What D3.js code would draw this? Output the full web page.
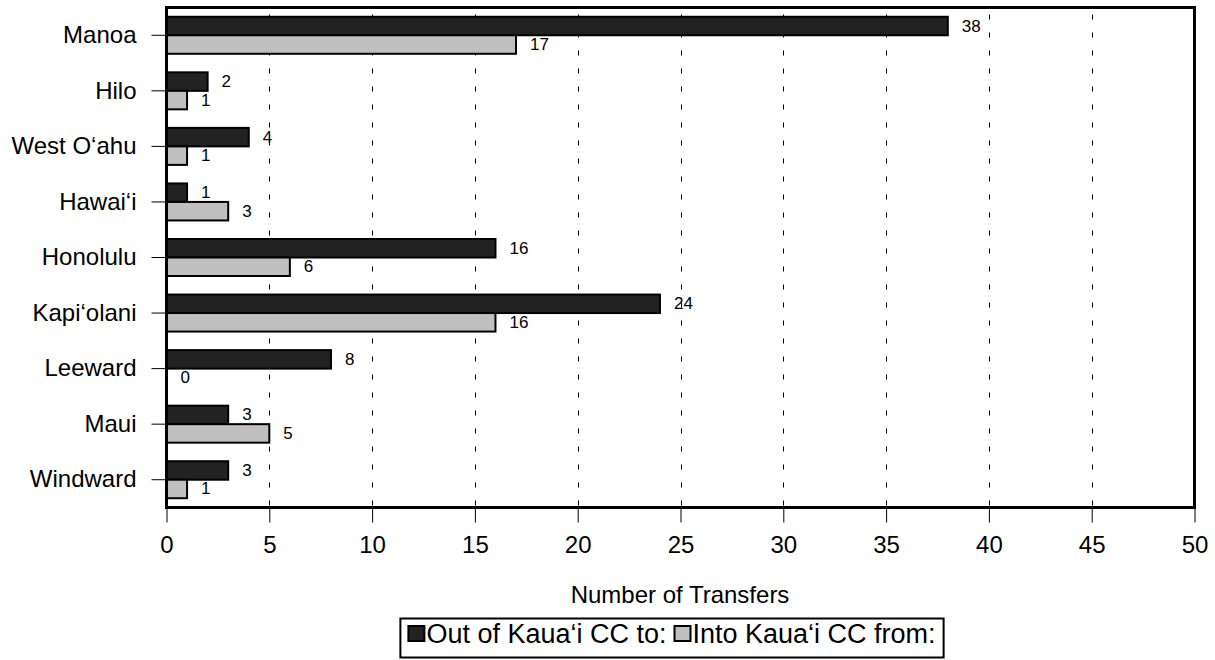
<!DOCTYPE html>
<html>
<head>
<meta charset="utf-8">
<script src="https://cdn.jsdelivr.net/npm/d3@7/dist/d3.min.js"></script>
<style>
  body { margin: 0; background: #fff; }
  svg { display: block; font-family: "Liberation Sans", Arial, sans-serif; }
</style>
</head>
<body>
<svg id="chart" width="1215" height="660"></svg>
<script>
const categories = ["Manoa", "Hilo", "West O\u2018ahu", "Hawai\u2018i", "Honolulu", "Kapi\u2018olani", "Leeward", "Maui", "Windward"];
const outOf = [38, 2, 4, 1, 16, 24, 8, 3, 3];
const into = [17, 1, 1, 3, 6, 16, 0, 5, 1];
const xTicks = [0, 5, 10, 15, 20, 25, 30, 35, 40, 45, 50];
const seriesNames = ["Out of Kaua\u2018i CC to:", "Into Kaua\u2018i CC from:"];
const seriesColors = ["#222222", "#c0c0c0"];

const FONT = "Liberation Sans, Arial, sans-serif";
const svg = d3.select("#chart");
const m = { left: 166.5, top: 7.5, right: 1194.5, bottom: 507.5 };

const x = d3.scaleLinear().domain([0, 50]).range([m.left, m.right]);
const y = d3.scaleBand().domain(categories).range([m.top, m.bottom]).paddingInner(0).paddingOuter(0);
const barH = 18.5;

// gridlines
svg.append("g").selectAll("line").data(xTicks.filter(t => t > 0 && t < 50)).join("line")
  .attr("x1", d => Math.round(x(d)) + 0.5).attr("x2", d => Math.round(x(d)) + 0.5)
  .attr("y1", m.top).attr("y2", m.bottom)
  .attr("stroke", "#000").attr("stroke-width", 1).attr("stroke-dasharray", "5,13")
  .attr("stroke-dashoffset", -7);

const series = [outOf, into];
series.forEach((vals, si) => {
  const g = svg.append("g");
  g.selectAll("rect").data(categories).join("rect")
    .attr("x", x(0))
    .attr("y", (d) => y(d) + y.bandwidth() / 2 - barH + si * barH)
    .attr("width", (d, i) => x(vals[i]) - x(0))
    .attr("height", barH)
    .attr("fill", seriesColors[si])
    .attr("stroke", "#000").attr("stroke-width", 2);
  g.selectAll("text").data(categories).join("text")
    .attr("x", (d, i) => x(vals[i]) + 14)
    .attr("y", (d) => y(d) + y.bandwidth() / 2 - barH / 2 + si * barH)
    .attr("dominant-baseline", "central")
    .attr("font-size", 17)
    .text((d, i) => vals[i]);
});

// plot border
svg.append("rect")
  .attr("x", m.left).attr("y", m.top)
  .attr("width", m.right - m.left).attr("height", m.bottom - m.top)
  .attr("fill", "none").attr("stroke", "#000").attr("stroke-width", 3);

// x axis
const xAxis = d3.axisBottom(x).tickValues(xTicks).tickSize(15).tickPadding(13);
const gx = svg.append("g").attr("transform", `translate(0,${m.bottom})`).call(xAxis);
gx.select(".domain").remove();
gx.selectAll("line").attr("stroke", "#000");
gx.selectAll("text").attr("font-size", 24).attr("fill", "#000").attr("font-family", FONT);

// y axis
const yAxis = d3.axisLeft(y).tickSize(15).tickPadding(15);
const gy = svg.append("g").attr("transform", `translate(${m.left},0)`).call(yAxis);
gy.select(".domain").remove();
gy.selectAll("line").attr("stroke", "#000");
gy.selectAll("text").attr("font-size", 24).attr("fill", "#000").attr("font-family", FONT);

// axis title
svg.append("text").attr("x", 680).attr("y", 603).attr("text-anchor", "middle")
  .attr("font-size", 24).text("Number of Transfers");

// legend
const lg = svg.append("g");
const box = lg.append("rect").attr("y", 618.5).attr("height", 39)
  .attr("fill", "#fff").attr("stroke", "#000").attr("stroke-width", 2);
let cx = 0;
const items = [];
seriesNames.forEach((n, i) => {
  const sq = lg.append("rect").attr("x", cx).attr("y", 626).attr("width", 16).attr("height", 15)
    .attr("fill", seriesColors[i]).attr("stroke", "#000").attr("stroke-width", 2);
  const t = lg.append("text").attr("x", cx + 18).attr("y", 643).attr("font-size", 27).text(n);
  cx += 18 + t.node().getComputedTextLength() + 8;
});
const contentW = cx - 8;
const boxW = contentW + 16;
const boxX = 680 - boxW / 2;
box.attr("x", boxX - 8).attr("width", boxW);
lg.selectAll("rect:not(:first-child), text").attr("transform", `translate(${boxX},0)`);
</script>
</body>
</html>
